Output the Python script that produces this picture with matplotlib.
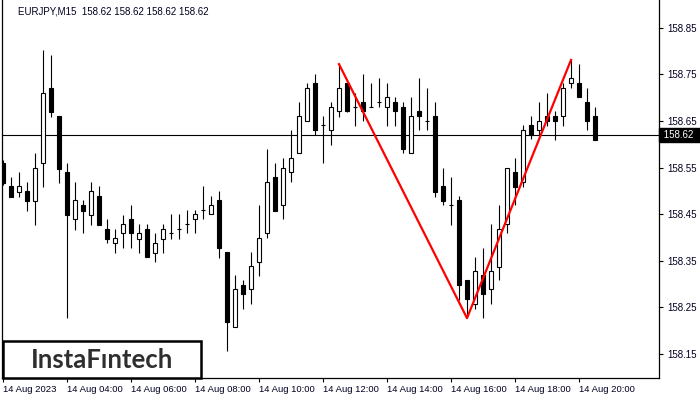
import numpy as np
import matplotlib.pyplot as plt
from matplotlib.patches import Rectangle

# EURJPY M15 candles
opens = [158.560, 158.511, 158.498, 158.500, 158.478, 158.560, 158.721, 158.661, 158.541, 158.440,
         158.470, 158.448, 158.489, 158.418, 158.388, 158.410, 158.440, 158.397, 158.418, 158.367,
         158.397, 158.410, 158.418, 158.429, 158.440, 158.459, 158.450, 158.480, 158.369, 158.208,
         158.298, 158.289, 158.347, 158.410, 158.530, 158.470, 158.541, 158.581, 158.650, 158.732,
         158.641, 158.631, 158.671, 158.732, 158.680, 158.691, 158.680, 158.691, 158.680, 158.691,
         158.680, 158.581, 158.671, 158.650, 158.661, 158.511, 158.470, 158.480, 158.309, 158.257,
         158.320, 158.289, 158.337, 158.429, 158.541, 158.519, 158.641, 158.631, 158.661, 158.661,
         158.661, 158.732, 158.732, 158.691, 158.661]
highs = [158.566, 158.530, 158.541, 158.519, 158.581, 158.802, 158.792, 158.661, 158.560, 158.519,
         158.480, 158.519, 158.511, 158.440, 158.418, 158.448, 158.470, 158.429, 158.429, 158.410,
         158.429, 158.450, 158.450, 158.459, 158.459, 158.511, 158.489, 158.500, 158.369, 158.320,
         158.309, 158.369, 158.470, 158.590, 158.560, 158.571, 158.631, 158.691, 158.732, 158.751,
         158.661, 158.691, 158.772, 158.732, 158.710, 158.751, 158.732, 158.742, 158.732, 158.702,
         158.691, 158.702, 158.742, 158.721, 158.691, 158.549, 158.530, 158.489, 158.309, 158.358,
         158.377, 158.429, 158.470, 158.549, 158.571, 158.641, 158.661, 158.691, 158.710, 158.671,
         158.732, 158.781, 158.772, 158.721, 158.680]
lows = [158.513, 158.487, 158.487, 158.457, 158.427, 158.508, 158.659, 158.517, 158.227, 158.416,
        158.410, 158.427, 158.427, 158.388, 158.367, 158.377, 158.377, 158.367, 158.358, 158.347,
        158.367, 158.397, 158.397, 158.410, 158.410, 158.440, 158.450, 158.356, 158.156, 158.208,
        158.247, 158.257, 158.317, 158.399, 158.457, 158.440, 158.519, 158.581, 158.650, 158.620,
        158.560, 158.598, 158.659, 158.669, 158.639, 158.650, 158.680, 158.680, 158.639, 158.639,
        158.581, 158.581, 158.631, 158.631, 158.487, 158.470, 158.427, 158.266, 158.227, 158.247,
        158.227, 158.257, 158.309, 158.410, 158.470, 158.508, 158.611, 158.620, 158.639, 158.609,
        158.639, 158.721, 158.702, 158.631, 158.609]
closes = [158.517, 158.487, 158.511, 158.478, 158.549, 158.710, 158.669, 158.547, 158.448, 158.480,
          158.457, 158.500, 158.427, 158.397, 158.399, 158.429, 158.410, 158.410, 158.358, 158.388,
          158.418, 158.410, 158.418, 158.429, 158.450, 158.459, 158.470, 158.377, 158.219, 158.289,
          158.279, 158.339, 158.399, 158.519, 158.457, 158.549, 158.571, 158.661, 158.721, 158.631,
          158.641, 158.680, 158.721, 158.671, 158.680, 158.671, 158.680, 158.691, 158.702, 158.671,
          158.590, 158.661, 158.661, 158.650, 158.498, 158.478, 158.470, 158.298, 158.268, 158.328,
          158.279, 158.328, 158.418, 158.549, 158.508, 158.631, 158.620, 158.650, 158.650, 158.650,
          158.721, 158.742, 158.702, 158.650, 158.609]

# pattern lines: top -> bottom -> top
pattern_bars = [42, 58, 71]
pattern_prices = [highs[42], lows[58], highs[71]]

price_now = 158.62
yticks = [158.15, 158.25, 158.35, 158.45, 158.55, 158.65, 158.75, 158.85]
xtick_bars = [0, 8, 16, 24, 32, 40, 48, 56, 64, 72]
xtick_labels = ['14 Aug 2023', '14 Aug 04:00', '14 Aug 06:00', '14 Aug 08:00', '14 Aug 10:00',
                '14 Aug 12:00', '14 Aug 14:00', '14 Aug 16:00', '14 Aug 18:00', '14 Aug 20:00']

plt.rcParams['font.family'] = ['Liberation Sans', 'DejaVu Sans']

fig = plt.figure(figsize=(7, 4), dpi=100)
ax = fig.add_axes([2/700, 22/400, 657/700, 378/400])

o = np.array(opens)
c = np.array(closes)
x = np.arange(len(o))

ax.vlines(x, lows, highs, color='black', linewidth=0.8, zorder=2)
up = c >= o
bottoms = np.minimum(o, c)
heights = np.abs(c - o)
ax.bar(x[up], heights[up], bottom=bottoms[up], width=0.55, facecolor='white',
       edgecolor='black', linewidth=0.8, zorder=3)
ax.bar(x[~up], heights[~up], bottom=bottoms[~up], width=0.55, facecolor='black',
       edgecolor='black', linewidth=0.8, zorder=3)

ax.axhline(price_now, color='black', linewidth=0.8, zorder=1)
ax.plot(pattern_bars, pattern_prices, color='red', linewidth=1.6, zorder=4)

ax.set_xlim(-0.125, 82)
ax.set_ylim(158.0985, 158.9097)

ax.yaxis.tick_right()
ax.set_yticks(yticks)
ax.set_yticklabels([f'{v:.2f}' for v in yticks], fontsize=7, color='#000020')
ax.tick_params(axis='y', length=3, width=0.8, pad=3)
ax.set_xticks(xtick_bars)
ax.set_xticklabels(xtick_labels, fontsize=6.8, ha='left', color='#000020')
ax.tick_params(axis='x', length=3, width=0.8, pad=2)

ax.spines['top'].set_visible(False)
for s in ['left', 'right', 'bottom']:
    ax.spines[s].set_linewidth(0.9)

# current price tag
ax.text(1.003, price_now, f' {price_now:.2f}  ', transform=ax.get_yaxis_transform(),
        fontsize=7, color='white', va='center', ha='left',
        bbox=dict(boxstyle='square,pad=0.25', facecolor='black', edgecolor='black'))

fig.text(18/700, 1 - 11/400, 'EURJPY,M15  158.62 158.62 158.62 158.62',
         fontsize=7, va='center', ha='left', color='#000020')

# logo box
fig.patches.append(Rectangle((3/700, 22/400), 198/700, 37/400, transform=fig.transFigure,
                             facecolor='white', edgecolor='black', linewidth=1.8, zorder=5))
fig.text(102/700, 1 - 360/400, 'InstaFıntech', fontsize=18.5, color='#2e2e2e',
         fontweight='bold', ha='center', va='center', zorder=6, family=['Lato', 'DejaVu Sans'])

fig.savefig('out.png', dpi=100, facecolor='white')
